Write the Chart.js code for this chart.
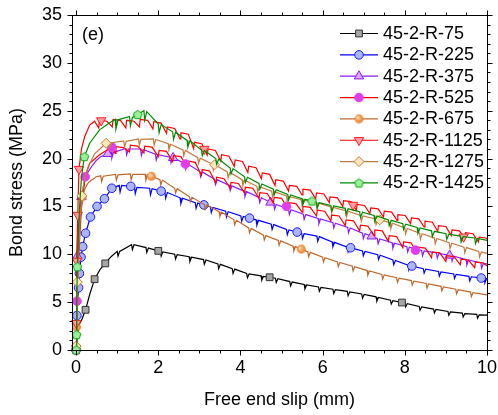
<!DOCTYPE html>
<html>
<head>
<meta charset="utf-8">
<script src="https://cdn.jsdelivr.net/npm/chart.js@4/dist/chart.umd.min.js"></script>
<style>
  html, body { margin: 0; padding: 0; background: #ffffff; }
  #wrap { width: 498px; height: 415px; }
</style>
</head>
<body>
<div id="wrap"><canvas id="c" width="498" height="415"></canvas></div>
<script>
// ---- data: bond stress (MPa) vs free end slip (mm) ----
const seriesNames = ['45-2-R-75', '45-2-R-225', '45-2-R-375', '45-2-R-525',
                     '45-2-R-675', '45-2-R-1125', '45-2-R-1275', '45-2-R-1425'];
const panelTag = '(e)';
const xTitle = 'Free end slip (mm)';
const yTitle = 'Bond stress (MPa)';
const xTicks = [0, 2, 4, 6, 8, 10];
const yTicks = [0, 5, 10, 15, 20, 25, 30, 35];

const curve75 = [[0,0],[0.03,1.6],[0.08,2.7],[0.15,3.3],[0.23,4.2],[0.33,5.8],[0.45,7.4],[0.58,8.4],[0.71,9.05],[0.85,9.75],
 [1.00,10.3],[1.02,9.8],[1.06,10.3],[1.35,11.0],[1.37,10.5],[1.41,11.0],[1.70,10.7],[1.72,10.2],[1.76,10.65],
 [2.05,10.3],[2.07,9.8],[2.11,10.25],[2.40,10.0],[2.42,9.5],[2.46,9.95],[2.75,9.75],[2.77,9.25],[2.81,9.7],
 [3.10,9.45],[3.12,8.95],[3.16,9.4],[3.45,9.0],[3.47,8.5],[3.51,8.95],[3.80,8.5],[3.82,8.0],[3.86,8.45],
 [4.15,8.0],[4.17,7.55],[4.21,7.95],[4.50,7.75],[4.52,7.3],[4.56,7.7],[4.85,7.5],[4.87,7.05],[4.91,7.45],
 [5.20,7.15],[5.22,6.7],[5.26,7.1],[5.55,6.85],[5.57,6.4],[5.61,6.8],[5.90,6.58],[5.92,6.13],[5.96,6.53],
 [6.25,6.35],[6.27,5.9],[6.31,6.3],[6.60,6.13],[6.62,5.68],[6.66,6.08],[6.95,5.85],[6.97,5.4],[7.01,5.8],
 [7.30,5.55],[7.32,5.1],[7.36,5.5],[7.65,5.2],[7.67,4.8],[7.71,5.15],[8.00,4.9],[8.02,4.5],[8.06,4.85],
 [8.35,4.55],[8.37,4.15],[8.41,4.5],[8.70,4.28],[8.72,3.88],[8.76,4.23],[9.05,4.03],[9.07,3.63],[9.11,3.98],
 [9.40,3.85],[9.42,3.45],[9.46,3.8],[9.75,3.72],[9.77,3.32],[9.81,3.68],[10,3.65]];
const mark75 = [[0,0],[0.23,4.2],[0.45,7.4],[0.71,9.05],[2.0,10.36],[4.71,7.6],[7.93,4.96]];

const curve225 = [[0,0],[0.01,2],[0.02,3.6],[0.04,5.3],[0.06,6.5],[0.08,8.0],[0.12,9.7],[0.16,10.8],[0.23,12.2],[0.35,13.9],[0.51,15.0],[0.69,15.8],[0.87,16.9],
 [1.05,17.2],[1.07,16.5],[1.11,17.2],[1.42,17.05],[1.44,16.35],[1.48,17.0],[1.79,16.9],[1.81,16.2],[1.85,16.85],
 [2.16,16.5],[2.18,15.85],[2.22,16.45],[2.53,15.9],[2.55,15.3],[2.59,15.85],[2.90,15.4],[2.92,14.8],[2.96,15.35],
 [3.27,14.95],[3.29,14.35],[3.33,14.9],[3.64,14.5],[3.66,13.9],[3.70,14.45],[4.01,14.0],[4.03,13.45],[4.07,13.95],
 [4.38,13.6],[4.40,13.05],[4.44,13.55],[4.75,13.15],[4.77,12.6],[4.81,13.1],[5.12,12.6],[5.14,12.05],[5.18,12.55],
 [5.49,12.2],[5.51,11.65],[5.55,12.15],[5.86,11.9],[5.88,11.35],[5.92,11.85],[6.23,11.3],[6.25,10.8],[6.29,11.25],
 [6.60,10.75],[6.62,10.25],[6.66,10.7],[6.97,10.35],[6.99,9.85],[7.03,10.3],[7.34,9.95],[7.36,9.45],[7.40,9.9],
 [7.71,9.4],[7.73,8.9],[7.77,9.35],[8.08,8.85],[8.10,8.38],[8.14,8.8],[8.45,8.5],[8.47,8.03],[8.51,8.45],
 [8.82,8.2],[8.84,7.73],[8.88,8.15],[9.19,7.95],[9.21,7.48],[9.25,7.9],[9.56,7.7],[9.58,7.23],[9.62,7.65],
 [9.93,7.48],[9.95,7.03],[9.99,7.45],[10,7.45]];
const mark225 = [[0,0],[0.02,3.6],[0.06,6.5],[0.08,8.0],[0.12,9.7],[0.16,10.8],[0.23,12.2],[0.35,13.9],[0.51,15.0],[0.69,15.8],[0.87,16.9],
 [1.33,17.1],[2.07,16.6],[3.11,15.16],[4.22,13.78],[5.38,12.32],[6.68,10.68],[8.17,8.77],[9.86,7.52]];

const curve375 = [[0,0],[0.01,3],[0.02,6],[0.03,9.8],[0.05,12.2],[0.08,14.2],[0.13,16.0],[0.2,17.5],[0.29,18.6],[0.4,19.3],[0.49,19.8],[0.6,20.2],[0.77,20.5],
 [0.85,20.7],[0.87,20.05],[0.91,20.65],[1.21,21.05],[1.23,20.4],[1.27,21.0],[1.57,21.0],[1.59,20.35],[1.63,20.95],
 [1.93,20.45],[1.95,19.85],[1.99,20.4],[2.29,20.15],[2.31,19.55],[2.35,20.1],[2.65,19.5],[2.67,18.9],[2.71,19.45],
 [3.01,18.65],[3.03,18.1],[3.07,18.6],[3.37,17.85],[3.39,17.3],[3.43,17.8],[3.73,17.2],[3.75,16.65],[3.79,17.15],
 [4.09,16.6],[4.11,16.05],[4.15,16.55],[4.45,15.95],[4.47,15.4],[4.51,15.9],[4.81,15.25],[4.83,14.7],[4.87,15.2],
 [5.17,14.7],[5.19,14.15],[5.23,14.65],[5.53,14.2],[5.55,13.65],[5.59,14.15],[5.89,13.75],[5.91,13.2],[5.95,13.7],
 [6.25,13.3],[6.27,12.75],[6.31,13.25],[6.61,12.8],[6.63,12.25],[6.67,12.75],[6.97,12.2],[6.99,11.65],[7.03,12.15],
 [7.33,11.65],[7.35,11.1],[7.39,11.6],[7.69,11.2],[7.71,10.65],[7.75,11.15],[8.05,10.8],[8.07,10.25],[8.11,10.75],
 [8.41,10.4],[8.43,9.85],[8.47,10.35],[8.77,10.15],[8.79,9.6],[8.83,10.1],[9.13,9.85],[9.15,9.3],[9.19,9.8],
 [9.49,9.45],[9.51,8.9],[9.55,9.4],[9.85,9.1],[9.87,8.55],[9.91,9.05],[10,9.0]];
const mark375 = [[0,0.3],[0.03,9.8],[0.13,16.0],[0.77,20.5],[2.36,20.08],[4.73,15.42],[7.19,11.88],[9.09,9.88]];

const curve525 = [[0,0],[0.01,2.5],[0.02,5.1],[0.05,8.8],[0.085,11.5],[0.13,14.8],[0.22,18.1],[0.33,19.5],[0.57,20.4],[0.87,21.2],
 [0.95,20.55],[0.97,21.25],[1.15,21.15],[1.30,20.7],[1.32,21.4],[1.50,21.3],[1.65,20.6],[1.67,21.3],[1.85,21.2],
 [2.00,20.2],[2.02,20.85],[2.20,20.75],[2.35,19.7],[2.37,20.3],[2.55,20.2],[2.70,19.15],[2.72,19.75],[2.90,19.6],
 [3.05,18.25],[3.07,18.85],[3.25,18.7],[3.40,17.45],[3.42,18.05],[3.60,17.9],[3.75,16.9],[3.77,17.5],[3.95,17.4],
 [4.10,16.4],[4.12,17.0],[4.30,16.9],[4.45,15.85],[4.47,16.45],[4.65,16.35],[4.80,15.35],[4.82,15.95],[5.00,15.85],
 [5.15,14.8],[5.17,15.4],[5.35,15.3],[5.50,14.4],[5.52,15.0],[5.70,14.9],[5.85,14.0],[5.87,14.6],[6.05,14.5],
 [6.20,13.5],[6.22,14.1],[6.40,14.0],[6.55,13.0],[6.57,13.6],[6.75,13.5],[6.90,12.45],[6.92,13.05],[7.10,12.95],
 [7.25,11.95],[7.27,12.55],[7.45,12.45],[7.60,11.35],[7.62,11.95],[7.80,11.85],[7.95,10.7],[7.97,11.3],[8.15,11.2],
 [8.30,10.15],[8.32,10.75],[8.50,10.65],[8.65,9.65],[8.67,10.25],[8.85,10.15],[9.00,9.25],[9.02,9.85],[9.20,9.75],
 [9.35,8.9],[9.37,9.5],[9.55,9.4],[9.70,8.6],[9.72,9.2],[9.90,9.1],[10,8.8]];
const mark525 = [[0,0],[0.02,5.1],[0.22,18.1],[0.87,21.2],[2.66,19.43],[5.12,15.01],[8.26,10.43]];

const curve675 = [[0,0],[0.01,2.4],[0.03,6],[0.06,10],[0.1,13.8],[0.15,16.0],[0.22,16.9],[0.3,17.5],[0.49,18.1],
 [0.60,18.2],[0.62,17.6],[0.66,18.15],[0.96,18.35],[0.98,17.75],[1.02,18.3],[1.32,18.4],[1.34,17.8],[1.38,18.35],
 [1.68,18.35],[1.70,17.75],[1.74,18.3],[2.04,17.8],[2.06,17.25],[2.10,17.75],[2.40,16.9],[2.42,16.4],[2.46,16.85],
 [2.76,16.0],[2.78,15.5],[2.82,15.95],[3.12,15.2],[3.14,14.7],[3.18,15.15],[3.48,14.45],[3.50,13.95],[3.54,14.4],
 [3.84,13.6],[3.86,13.1],[3.90,13.55],[4.20,12.75],[4.22,12.25],[4.26,12.7],[4.56,12.0],[4.58,11.5],[4.62,11.95],
 [4.92,11.45],[4.94,10.95],[4.98,11.4],[5.28,10.85],[5.30,10.35],[5.34,10.8],[5.64,10.25],[5.66,9.75],[5.70,10.2],
 [6.00,9.7],[6.02,9.2],[6.06,9.65],[6.36,9.2],[6.38,8.72],[6.42,9.15],[6.72,8.75],[6.74,8.27],[6.78,8.7],
 [7.08,8.3],[7.10,7.82],[7.14,8.25],[7.44,7.9],[7.46,7.42],[7.50,7.85],[7.80,7.55],[7.82,7.07],[7.86,7.5],
 [8.16,7.25],[8.18,6.77],[8.22,7.2],[8.52,6.95],[8.54,6.47],[8.58,6.9],[8.88,6.65],[8.90,6.17],[8.94,6.6],
 [9.24,6.35],[9.26,5.87],[9.30,6.3],[9.60,6.05],[9.62,5.57],[9.66,6.0],[10,5.75]];
const mark675 = [[0,0.3],[0.01,2.4],[0.15,16.0],[1.83,18.15],[5.48,10.54]];

const curve1125 = [[0,0],[0.005,2.8],[0.01,6],[0.02,9.3],[0.04,14.1],[0.07,18.9],[0.13,21.0],[0.21,22.3],[0.33,23.5],[0.45,23.9],
 [0.55,23.2],[0.57,24.0],[0.75,23.9],[0.88,23.3],[0.90,24.1],[1.08,24.0],[1.21,23.2],[1.23,24.0],[1.41,23.9],
 [1.54,23.3],[1.56,24.1],[1.74,24.0],[1.87,23.1],[1.89,23.85],[2.07,23.7],[2.20,22.65],[2.22,23.3],[2.40,23.15],
 [2.53,22.05],[2.55,22.7],[2.73,22.55],[2.86,21.05],[2.88,21.7],[3.06,21.55],[3.19,20.35],[3.21,21.0],[3.39,20.85],
 [3.52,19.75],[3.54,20.4],[3.72,20.25],[3.85,19.2],[3.87,19.85],[4.05,19.7],[4.18,18.55],[4.20,19.2],[4.38,19.05],
 [4.51,17.9],[4.53,18.5],[4.71,18.35],[4.84,17.2],[4.86,17.8],[5.04,17.65],[5.17,16.6],[5.19,17.2],[5.37,17.1],
 [5.50,16.2],[5.52,16.8],[5.70,16.7],[5.83,15.8],[5.85,16.4],[6.03,16.3],[6.16,15.4],[6.18,16.0],[6.36,15.9],
 [6.49,15.0],[6.51,15.6],[6.69,15.5],[6.82,14.6],[6.84,15.2],[7.02,15.1],[7.15,14.25],[7.17,14.85],[7.35,14.75],
 [7.48,13.9],[7.50,14.5],[7.68,14.4],[7.81,13.55],[7.83,14.15],[8.01,14.05],[8.14,13.2],[8.16,13.8],[8.34,13.7],
 [8.47,12.85],[8.49,13.45],[8.67,13.35],[8.80,12.4],[8.82,13.0],[9.00,12.9],[9.13,11.95],[9.15,12.55],[9.33,12.45],
 [9.46,11.65],[9.48,12.25],[9.66,12.15],[9.79,11.3],[9.81,11.8],[9.97,11.7],[10,11.6]];
const mark1125 = [[0,0.2],[0.005,2.8],[0.02,9.3],[0.04,14.1],[0.07,18.9],[0.61,23.98],[3.12,21.0],[6.74,15.15],[9.43,11.83]];

const curve1275 = [[0,0],[0.01,2],[0.02,4.5],[0.03,7.1],[0.06,11],[0.1,14.2],[0.14,16.1],[0.2,17.8],[0.29,19.1],[0.45,20.5],[0.73,21.6],
 [0.80,21.7],[0.82,21.05],[0.86,21.65],[1.16,21.85],[1.18,21.2],[1.22,21.8],[1.52,22.05],[1.54,21.4],[1.58,22.0],
 [1.88,22.05],[1.90,21.4],[1.94,22.0],[2.24,21.55],[2.26,20.95],[2.30,21.5],[2.60,20.9],[2.62,20.3],[2.66,20.85],
 [2.96,20.1],[2.98,19.5],[3.02,20.05],[3.32,19.4],[3.34,18.8],[3.38,19.35],[3.68,18.6],[3.70,18.0],[3.74,18.55],
 [4.04,17.8],[4.06,17.2],[4.10,17.75],[4.40,17.1],[4.42,16.5],[4.46,17.05],[4.76,16.6],[4.78,16.0],[4.82,16.55],
 [5.12,16.1],[5.14,15.5],[5.18,16.05],[5.48,15.7],[5.50,15.1],[5.54,15.65],[5.84,15.4],[5.86,14.8],[5.90,15.35],
 [6.20,14.95],[6.22,14.35],[6.26,14.9],[6.56,14.55],[6.58,13.95],[6.62,14.5],[6.92,14.05],[6.94,13.45],[6.98,14.0],
 [7.28,13.7],[7.30,13.1],[7.34,13.65],[7.64,13.3],[7.66,12.7],[7.70,13.25],[8.00,12.75],[8.02,12.15],[8.06,12.7],
 [8.36,12.2],[8.38,11.6],[8.42,12.15],[8.72,11.7],[8.74,11.1],[8.78,11.65],[9.08,11.2],[9.10,10.6],[9.14,11.15],
 [9.44,10.75],[9.46,10.15],[9.50,10.7],[9.80,10.3],[9.82,9.7],[9.86,10.25],[10,10.1]];
const mark1275 = [[0,0.4],[0.03,7.1],[0.14,16.1],[0.73,21.6],[3.37,19.35],[7.39,13.6]];

const curve1425 = [[0,0],[0.01,1.6],[0.02,5],[0.03,8.7],[0.06,12.5],[0.085,15],[0.13,18],[0.2,20.2],[0.33,21.6],[0.57,23.0],[0.8,23.7],
 [0.95,24.1],[0.97,23.1],[1.02,24.05],[1.30,24.4],[1.32,23.4],[1.37,24.3],[1.65,25.0],[1.67,24.0],[1.72,24.9],
 [2.00,23.6],[2.02,22.7],[2.07,23.55],[2.35,22.8],[2.37,22.0],[2.42,22.75],[2.70,21.9],[2.72,21.2],[2.77,21.85],
 [3.05,20.9],[3.07,20.3],[3.12,20.85],[3.40,20.0],[3.42,19.4],[3.47,19.95],[3.75,19.0],[3.77,18.4],[3.82,18.95],
 [4.10,18.1],[4.12,17.5],[4.17,18.05],[4.45,17.4],[4.47,16.8],[4.52,17.35],[4.80,16.8],[4.82,16.2],[4.87,16.75],
 [5.15,16.25],[5.17,15.65],[5.22,16.2],[5.50,15.8],[5.52,15.2],[5.57,15.75],[5.85,15.45],[5.87,14.85],[5.92,15.4],
 [6.20,15.1],[6.22,14.5],[6.27,15.05],[6.55,14.8],[6.57,14.2],[6.62,14.75],[6.90,14.45],[6.92,13.85],[6.97,14.4],
 [7.25,14.05],[7.27,13.45],[7.32,14.0],[7.60,13.6],[7.62,13.0],[7.67,13.55],[7.95,13.2],[7.97,12.6],[8.02,13.15],
 [8.30,12.8],[8.32,12.2],[8.37,12.75],[8.65,12.45],[8.67,11.85],[8.72,12.4],[9.00,12.15],[9.02,11.55],[9.07,12.1],
 [9.35,11.9],[9.37,11.3],[9.42,11.85],[9.70,11.7],[9.72,11.1],[9.77,11.65],[10,11.45]];
const mark1425 = [[0,0],[0.01,1.6],[0.03,8.7],[0.2,20.2],[1.5,24.6],[5.74,15.57]];

const curves  = [curve75, curve225, curve375, curve525, curve675, curve1125, curve1275, curve1425];
const markers = [mark75, mark225, mark375, mark525, mark675, mark1125, mark1275, mark1425];

// ---- marker images for shapes Chart.js lacks ----
function pentagonImage(r, fill, stroke) {
  const s = Math.ceil(2 * r + 3), c = document.createElement('canvas');
  c.width = s; c.height = s;
  const g = c.getContext('2d');
  g.beginPath();
  for (let k = 0; k < 5; k++) {
    const a = -Math.PI / 2 + k * 2 * Math.PI / 5;
    const px = s / 2 + r * Math.cos(a), py = s / 2 + r * Math.sin(a) + 0.4;
    k ? g.lineTo(px, py) : g.moveTo(px, py);
  }
  g.closePath();
  g.fillStyle = fill; g.fill();
  g.strokeStyle = stroke; g.lineWidth = 1; g.stroke();
  return c;
}
function sphereImage(r, light, dark) {
  const s = Math.ceil(2 * r + 2), c = document.createElement('canvas');
  c.width = s; c.height = s;
  const g = c.getContext('2d');
  const grd = g.createRadialGradient(s / 2 - r * 0.35, s / 2 - r * 0.35, r * 0.1, s / 2, s / 2, r);
  grd.addColorStop(0, light); grd.addColorStop(1, dark);
  g.beginPath(); g.arc(s / 2, s / 2, r, 0, Math.PI * 2);
  g.fillStyle = grd; g.fill();
  return c;
}

// ---- styles per series ----
const styles = [
  { line: '#000000', fill: '#a6a6a6', edge: '#333333', shape: 'rect',     r: 4.8, rot: 0 },
  { line: '#0000ff', fill: '#aab6f6', edge: '#1a1aff', shape: 'circle',   r: 4.3, rot: 0 },
  { line: '#8a1cff', fill: '#dca6fa', edge: '#8a1cff', shape: 'triangle', r: 5.4, rot: 0 },
  { line: '#ff0000', fill: '#e23cf0', edge: '#e23cf0', shape: 'circle',   r: 4.3, rot: 0 },
  { line: '#c0682c', fill: '#f08a30', edge: '#f08a30', shape: sphereImage(4.4, '#ffd9b0', '#ea7418'), r: 4.4, rot: 0 },
  { line: '#ff0000', fill: '#ff9ca4', edge: '#ff2020', shape: 'triangle', r: 5.4, rot: 180 },
  { line: '#c27a3e', fill: '#fde6ba', edge: '#c0803c', shape: 'rectRot',  r: 5.0, rot: 0 },
  { line: '#008a00', fill: '#98f098', edge: '#10a010', shape: pentagonImage(4.6, '#98f098', '#10a010'), r: 4.6, rot: 0 }
];

const toXY = arr => arr.map(([x, y]) => ({ x, y }));
const datasets = [];
seriesNames.forEach((name, i) => {
  const st = styles[i];
  datasets.push({
    label: name, data: toXY(curves[i]), showLine: true,
    borderColor: st.line, borderWidth: 1.2, pointRadius: 0, pointHoverRadius: 0,
    tension: 0, clip: false, order: (8 - i) * 2
  });
  datasets.push({
    label: name + ' symbols', data: toXY(markers[i]), showLine: false,
    pointStyle: st.shape, pointRadius: st.r, pointRotation: st.rot,
    pointBackgroundColor: st.fill, pointBorderColor: st.edge, pointBorderWidth: 1,
    clip: false, order: (8 - i) * 2 - 1
  });
});

const FONT = '"Liberation Sans", Arial, sans-serif';
const FSIZE = 18;

// frame with outward major/minor ticks on all four sides
const framePlugin = {
  id: 'frame',
  afterDatasetsDraw(chart) {
    const { ctx, chartArea: a, scales: { x, y } } = chart;
    const L = Math.round(a.left) + 0.5, R = Math.round(a.right) + 0.5;
    const T = Math.round(a.top) + 0.5, B = Math.round(a.bottom) + 0.5;
    ctx.save();
    ctx.strokeStyle = '#000'; ctx.lineWidth = 1;
    ctx.strokeRect(L, T, R - L, B - T);
    ctx.beginPath();
    for (let v = 0; v <= 10.0001; v += 0.5) {
      const px = Math.round(x.getPixelForValue(v)) + 0.5;
      const len = xTicks.includes(Math.round(v * 10) / 10) ? 5 : 3;
      ctx.moveTo(px, B); ctx.lineTo(px, B + len);
      ctx.moveTo(px, T); ctx.lineTo(px, T - len);
    }
    for (let v = 0; v <= 35; v += 1) {
      const py = Math.round(y.getPixelForValue(v)) + 0.5;
      const len = yTicks.includes(v) ? 5 : 3;
      ctx.moveTo(L, py); ctx.lineTo(L - len, py);
      ctx.moveTo(R, py); ctx.lineTo(R + len, py);
    }
    ctx.stroke();
    ctx.restore();
  },
  afterDraw(chart) {
    const { ctx, chartArea: a } = chart;
    ctx.save();
    ctx.fillStyle = '#000';
    ctx.font = FSIZE + 'px ' + FONT;
    ctx.textBaseline = 'middle';
    ctx.textAlign = 'left';
    ctx.fillText(panelTag, a.left + 10, a.top + 20.5);
    // legend: line sample, symbol, name
    const x0 = a.right - 147, y0 = a.top + 18.5, dy = 21.35;
    seriesNames.forEach((name, i) => {
      const st = styles[i], yy = y0 + i * dy;
      ctx.strokeStyle = st.line; ctx.lineWidth = 1.2;
      ctx.beginPath(); ctx.moveTo(x0, yy); ctx.lineTo(x0 + 38, yy); ctx.stroke();
      ctx.fillStyle = st.fill; ctx.strokeStyle = st.edge; ctx.lineWidth = 1;
      Chart.helpers.drawPoint(ctx, { pointStyle: st.shape, radius: st.r, rotation: st.rot, borderWidth: 1 }, x0 + 19, yy);
      ctx.fillStyle = '#000';
      ctx.fillText(name, x0 + 43, yy + 0.5);
    });
    ctx.restore();
  }
};

new Chart(document.getElementById('c'), {
  type: 'scatter',
  data: { datasets },
  options: {
    responsive: false,
    animation: false,
    devicePixelRatio: 1,
    layout: { padding: { top: 15, right: 11, left: 0, bottom: 0 } },
    plugins: { legend: { display: false }, tooltip: { enabled: false } },
    scales: {
      x: {
        type: 'linear', min: -0.1, max: 10,
        afterBuildTicks: s => { s.ticks = xTicks.map(v => ({ value: v })); },
        afterFit: s => { s.height = 65; s.paddingLeft = 0; s.paddingRight = 0; },
        grid: { display: false, drawTicks: false },
        border: { display: false },
        ticks: { padding: 7, color: '#000', font: { family: FONT, size: FSIZE }, maxRotation: 0 },
        title: { display: true, text: xTitle, color: '#000', font: { family: FONT, size: FSIZE }, padding: { top: 0, bottom: 4 } }
      },
      y: {
        type: 'linear', min: 0, max: 35,
        afterBuildTicks: s => { s.ticks = yTicks.map(v => ({ value: v })); },
        afterFit: s => { s.width = 72; s.paddingTop = 0; s.paddingBottom = 0; },
        grid: { display: false, drawTicks: false },
        border: { display: false },
        ticks: { padding: 10, color: '#000', font: { family: FONT, size: FSIZE } },
        title: { display: true, text: yTitle, color: '#000', font: { family: FONT, size: FSIZE }, padding: { top: 6, bottom: 0 } }
      }
    }
  },
  plugins: [framePlugin]
});
</script>
</body>
</html>
